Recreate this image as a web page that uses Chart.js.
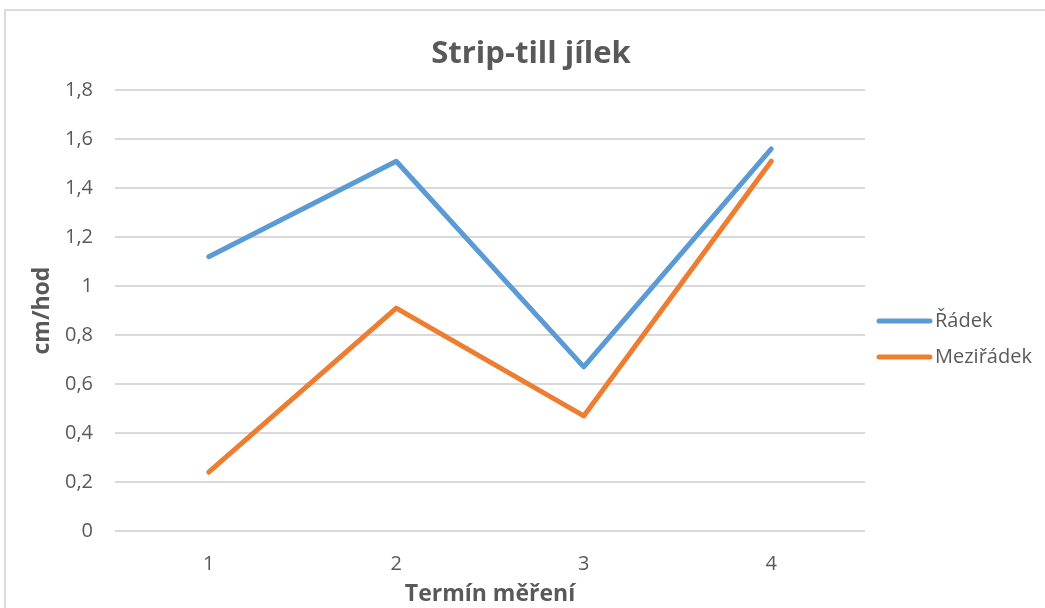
<!DOCTYPE html>
<html>
<head>
<meta charset="utf-8">
<script src="https://cdn.jsdelivr.net/npm/chart.js@4.4.1/dist/chart.umd.min.js"></script>
<style>
    html, body { margin: 0; padding: 0; background: #fff; overflow: hidden; }
    #wrap { position: relative; width: 1045px; height: 608px; }
    #frame {
        position: absolute; left: 4px; top: 9px; width: 1100px; height: 700px;
        border: 2px solid #dcdcdc; pointer-events: none;
    }
</style>
</head>
<body>
<div id="wrap">
    <canvas id="lineChart" width="1045" height="608"></canvas>
    <div id="frame"></div>
</div>
<script>
const terms = ['1', '2', '3', '4'];
const radek = [1.12, 1.51, 0.67, 1.56];
const meziradek = [0.24, 0.91, 0.47, 1.51];
const yTickLabels = ['0', '0,2', '0,4', '0,6', '0,8', '1', '1,2', '1,4', '1,6', '1,8'];

const textColor = '#595959';
const fontFamily = '"Open Sans", Lato, sans-serif';

// legend drawn by hand on the right, like the Excel one
const sideLegend = {
    id: 'sideLegend',
    afterDraw(chart) {
        const ctx = chart.ctx;
        const rows = [321, 357];
        ctx.save();
        chart.data.datasets.forEach((ds, i) => {
            const y = rows[i];
            ctx.strokeStyle = ds.borderColor;
            ctx.lineWidth = 5;
            ctx.lineCap = 'round';
            ctx.beginPath();
            ctx.moveTo(879, y);
            ctx.lineTo(930, y);
            ctx.stroke();
            ctx.fillStyle = textColor;
            ctx.font = '20px ' + fontFamily;
            ctx.textAlign = 'left';
            ctx.textBaseline = 'middle';
            ctx.fillText(ds.label, 935, y);
        });
        ctx.restore();
    }
};

function initChart() {
    const canvas = document.getElementById('lineChart');
    const ctx = canvas.getContext('2d');

    new Chart(ctx, {
        type: 'line',
        data: {
            labels: terms,
            datasets: [
                {
                    label: 'Řádek',
                    data: radek,
                    borderColor: '#5B9BD5',
                    backgroundColor: '#5B9BD5',
                    borderWidth: 5,
                    pointRadius: 0,
                    tension: 0,
                    borderCapStyle: 'round',
                    borderJoinStyle: 'round'
                },
                {
                    label: 'Meziřádek',
                    data: meziradek,
                    borderColor: '#ED7D31',
                    backgroundColor: '#ED7D31',
                    borderWidth: 5,
                    pointRadius: 0,
                    tension: 0,
                    borderCapStyle: 'round',
                    borderJoinStyle: 'round'
                }
            ]
        },
        options: {
            responsive: false,
            animation: false,
            layout: {
                padding: { left: 17, top: 0, right: 0, bottom: 0 }
            },
            plugins: {
                legend: { display: false },
                tooltip: { enabled: false },
                title: {
                    display: true,
                    text: 'Strip-till jílek',
                    color: textColor,
                    font: { family: fontFamily, size: 31, weight: 'bold' },
                    padding: { top: 36, bottom: 17 }
                }
            },
            scales: {
                x: {
                    offset: true,
                    grid: { display: false },
                    border: { display: false },
                    ticks: {
                        color: textColor,
                        padding: 13,
                        font: { family: fontFamily, size: 20 }
                    },
                    title: {
                        display: true,
                        text: 'Termín měření',
                        color: textColor,
                        font: { family: fontFamily, size: 23, weight: 'bold' },
                        padding: { top: 0, bottom: 0 }
                    },
                    afterFit: function(scale) {
                        scale.height = 77;
                    }
                },
                y: {
                    min: 0,
                    max: 1.8,
                    grid: {
                        color: '#d9d9d9',
                        lineWidth: 2,
                        drawTicks: false
                    },
                    border: { display: false },
                    ticks: {
                        stepSize: 0.2,
                        color: textColor,
                        padding: 22,
                        font: { family: fontFamily, size: 20 },
                        callback: function(value, index) {
                            return yTickLabels[index];
                        }
                    },
                    title: {
                        display: true,
                        text: 'cm/hod',
                        color: textColor,
                        font: { family: fontFamily, size: 23, weight: 'bold' },
                        padding: { top: 12, bottom: 0 }
                    },
                    afterFit: function(scale) {
                        scale.width = 98;
                    }
                },
                // empty axis that only keeps room for the legend
                spacer: {
                    type: 'linear',
                    position: 'right',
                    grid: { display: false },
                    border: { display: false },
                    ticks: { display: false },
                    afterFit: function(scale) {
                        scale.width = 180;
                    }
                }
            }
        },
        plugins: [sideLegend]
    });
}

document.addEventListener('DOMContentLoaded', initChart);
</script>
</body>
</html>
